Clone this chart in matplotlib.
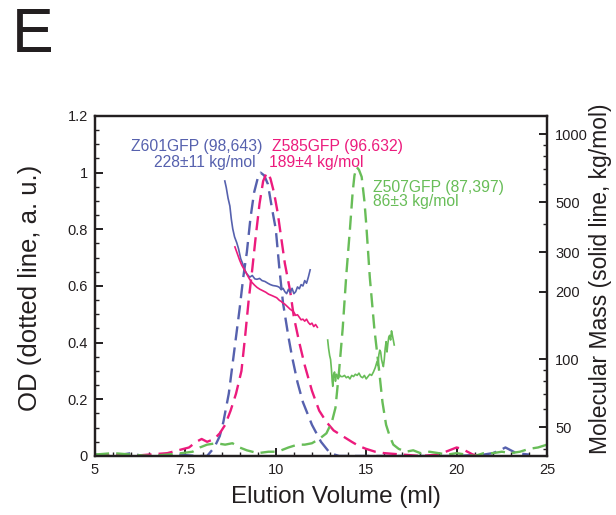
import numpy as np
import matplotlib
matplotlib.use("Agg")
import matplotlib.pyplot as plt
from matplotlib.ticker import FixedLocator, FixedFormatter, NullFormatter

plt.rcParams['font.family'] = ['Liberation Sans', 'DejaVu Sans']

# OD traces (dashed, left axis)
blue_od_x = [5.0, 5.5, 6.0, 6.3, 6.8, 7.3, 7.8, 8.1, 8.3, 8.45, 8.55, 8.7, 8.85, 9.0, 9.1, 9.2,
             9.3, 9.4, 9.5, 9.58, 9.68, 9.78, 9.9, 10.0, 10.2, 10.4, 10.7, 10.9, 11.2, 11.5,
             12.0, 12.5, 13.0, 13.5, 14.5, 16.0, 18.0, 20.0, 21.5, 22.0, 22.4, 22.7, 23.0,
             23.3, 24.0]
blue_od_y = [0.005, 0.0, 0.01, 0.0, 0.0, 0.005, 0.0, 0.0, 0.03, 0.07, 0.12, 0.22, 0.37, 0.52,
             0.63, 0.72, 0.84, 0.93, 0.98, 1.0, 0.99, 0.96, 0.87, 0.80, 0.66, 0.54, 0.42, 0.35,
             0.26, 0.19, 0.11, 0.05, 0.01, 0.0, 0.0, 0.0, 0.0, 0.0, 0.005, 0.01, 0.02, 0.03,
             0.02, 0.01, 0.005]

pink_od_x = [5.0, 5.5, 6.0, 6.5, 7.0, 7.3, 7.6, 7.8, 7.95, 8.1, 8.3, 8.45, 8.6, 8.75, 8.9,
             9.05, 9.15, 9.25, 9.35, 9.45, 9.55, 9.65, 9.75, 9.85, 9.95, 10.1, 10.3, 10.5,
             10.8, 11.0, 11.3, 11.6, 12.0, 12.4, 12.8, 13.2, 13.7, 14.2, 14.6, 15.0, 15.5,
             16.0, 17.0, 18.0, 19.0, 19.6, 20.0, 20.3, 20.6, 20.9, 21.2]
pink_od_y = [0.0, 0.005, 0.0, 0.005, 0.01, 0.02, 0.03, 0.05, 0.06, 0.05, 0.06, 0.08, 0.11,
             0.16, 0.22, 0.30, 0.42, 0.55, 0.66, 0.78, 0.89, 0.97, 1.0, 0.98, 0.93, 0.86,
             0.77, 0.68, 0.58, 0.49, 0.40, 0.32, 0.23, 0.16, 0.12, 0.09, 0.07, 0.05, 0.035,
             0.025, 0.015, 0.01, 0.005, 0.0, 0.005, 0.02, 0.03, 0.025, 0.015, 0.005, 0.0]

green_od_x = [5.0, 5.5, 6.0, 6.5, 7.0, 7.4, 7.7, 7.9, 8.1, 8.35, 8.6, 8.8, 9.0, 9.2, 9.5,
              9.8, 10.0, 10.3, 10.7, 11.2, 11.6, 12.0, 12.4, 12.8, 13.1, 13.3, 13.5, 13.7,
              13.9, 14.1, 14.25, 14.35, 14.47, 14.6, 14.75, 14.9, 15.0, 15.2, 15.45, 15.7,
              15.9, 16.1, 16.3, 16.5, 16.8, 17.2, 17.6, 18.0, 18.5, 19.0, 19.5, 20.0, 20.5,
              21.0, 21.5, 22.0, 22.5, 23.0, 23.5, 24.0, 24.5, 25.0]
green_od_y = [0.005, 0.01, 0.005, 0.0, 0.005, 0.01, 0.015, 0.03, 0.04, 0.045, 0.04, 0.045,
              0.03, 0.02, 0.01, 0.015, 0.015, 0.02, 0.03, 0.04, 0.04, 0.045, 0.06, 0.08,
              0.12, 0.17, 0.30, 0.45, 0.64, 0.80, 0.93, 0.99, 1.02, 1.01, 0.985, 0.90, 0.82,
              0.63, 0.45, 0.31, 0.19, 0.11, 0.07, 0.04, 0.025, 0.015, 0.02, 0.01, 0.015,
              0.01, 0.005, 0.01, 0.005, 0.0, 0.01, 0.01, 0.015, 0.01, 0.015, 0.025, 0.03,
              0.04]

# molecular mass traces (solid, right axis, kg/mol)
blue_mm_x = [8.59, 8.63, 8.68, 8.73, 8.77, 8.81, 8.86, 8.92, 8.97, 9.03, 9.09, 9.14, 9.2,
             9.28, 9.35, 9.42, 9.48, 9.55, 9.62, 9.7, 9.78, 9.85, 9.92, 10.0, 10.1, 10.2,
             10.3, 10.4, 10.5, 10.6, 10.7, 10.8, 10.9, 11.0, 11.1, 11.2, 11.3, 11.4, 11.5,
             11.6, 11.7, 11.8, 11.9]
blue_mm_y = [620, 580, 520, 480, 420, 380, 350, 330, 310, 280, 265, 250, 240, 232, 236, 228,
             227, 229, 224, 222, 218, 215, 213, 212, 211, 209, 204, 207, 200, 196, 205, 198,
             207, 196, 200, 210, 206, 215, 212, 224, 218, 232, 250]

pink_mm_x = [8.87, 8.92, 9.0, 9.06, 9.12, 9.2, 9.27, 9.34, 9.41, 9.48, 9.56, 9.64, 9.72, 9.8,
             9.9, 10.05, 10.2, 10.3, 10.4, 10.5, 10.6, 10.7, 10.8, 10.9, 11.0, 11.1, 11.2,
             11.3, 11.4, 11.5, 11.6, 11.7, 11.8, 11.9, 12.0, 12.1, 12.2, 12.3]
pink_mm_y = [316, 300, 276, 262, 252, 239, 228, 220, 214, 209, 205, 202, 199, 195, 192, 188,
             183, 181, 178, 176, 173, 170, 167, 165, 162, 157, 158, 154, 150, 151, 148, 151,
             146, 143, 145, 140, 143, 139]

green_mm_x = [12.87, 12.92, 12.98, 13.03, 13.08, 13.12, 13.15, 13.2, 13.25, 13.3, 13.35, 13.4,
              13.45, 13.5, 13.6, 13.7, 13.8, 13.9, 14.0, 14.1, 14.2, 14.3, 14.4, 14.5, 14.6,
              14.7, 14.8, 14.9, 15.0, 15.1, 15.2, 15.3, 15.4, 15.5, 15.6, 15.65, 15.7, 15.75,
              15.8, 15.85, 15.9, 15.95, 16.0, 16.05, 16.1, 16.15, 16.2, 16.25, 16.3, 16.35,
              16.4, 16.45, 16.5, 16.55]
green_mm_y = [122, 112, 104, 100, 90, 80, 76, 86, 88, 80, 86, 85, 82, 86, 84, 84, 85, 83, 84,
              82, 85, 84, 86, 85, 87, 84, 83, 85, 82, 84, 86, 85, 88, 92, 98, 94, 105, 110,
              108, 100, 96, 93, 100, 112, 120, 108, 118, 126, 128, 122, 134, 128, 122, 116]

x_ticks = [5, 7.5, 10, 15, 20, 25]
x_ticklabels = ['5', '7.5', '10', '15', '20', '25']
x_minor = [5.5, 6, 6.5, 7, 8, 8.5, 9, 9.5, 11, 12, 13, 14, 16, 17, 18, 19, 21, 22, 23, 24]
mm_ticks = [50, 100, 200, 300, 500, 1000]
mm_minor = [40, 60, 70, 80, 90, 400, 600, 700, 800, 900]

c_blue = '#5661ae'
c_pink = '#ec1b7d'
c_green = '#68bd58'
ink = '#231f20'


# the x axis is stretched 2x between 5 and 10 ml
def fwd(x):
    x = np.asarray(x, dtype=float)
    return np.where(x < 10, 2 * x - 10, x)


def inv(y):
    y = np.asarray(y, dtype=float)
    return np.where(y < 10, (y + 10) / 2, y)


fig = plt.figure(figsize=(6.16, 5.15), dpi=100)
ax = fig.add_axes([0.1542, 0.1146, 0.7338, 0.6602])
ax.set_xscale('function', functions=(fwd, inv))
ax2 = ax.twinx()

dash = (0, (6, 3))
ax.plot(blue_od_x, blue_od_y, color=c_blue, lw=1.7, ls=dash)
ax.plot(pink_od_x, pink_od_y, color=c_pink, lw=1.7, ls=dash)
ax.plot(green_od_x, green_od_y, color=c_green, lw=1.7, ls=dash)

ax2.plot(blue_mm_x, blue_mm_y, color=c_blue, lw=1.2)
ax2.plot(pink_mm_x, pink_mm_y, color=c_pink, lw=1.2)
ax2.plot(green_mm_x, green_mm_y, color=c_green, lw=1.2)

ax.set_xlim(5, 25)
ax.set_ylim(0, 1.2)
ax.xaxis.set_major_locator(FixedLocator(x_ticks))
ax.xaxis.set_major_formatter(FixedFormatter(x_ticklabels))
ax.xaxis.set_minor_locator(FixedLocator(x_minor))
ax.set_yticks([0, 0.2, 0.4, 0.6, 0.8, 1.0, 1.2])
ax.set_yticklabels(['0', '0.2', '0.4', '0.6', '0.8', '1', '1.2'])
ax.yaxis.set_minor_locator(FixedLocator(np.arange(0.05, 1.2, 0.05)))

ax2.set_yscale('log')
ax2.set_ylim(37.3, 1205)
ax2.yaxis.set_major_locator(FixedLocator(mm_ticks))
ax2.yaxis.set_major_formatter(FixedFormatter([str(v) for v in mm_ticks]))
ax2.yaxis.set_minor_locator(FixedLocator(mm_minor))
ax2.yaxis.set_minor_formatter(NullFormatter())

for a in (ax, ax2):
    for s in a.spines.values():
        s.set_linewidth(1.6)
        s.set_color(ink)
    a.tick_params(which='major', direction='in', length=6, width=1.4, color=ink,
                  labelsize=10.5, labelcolor=ink)
    a.tick_params(which='minor', direction='in', length=3, width=1.0, color=ink)
ax.tick_params(axis='x', pad=5)
ax.tick_params(axis='y', pad=5)
ax2.tick_params(axis='y', pad=6)

ax.set_xlabel('Elution Volume (ml)', fontsize=17.5, color=ink)
ax.xaxis.set_label_coords(0.532, -0.088)
ax.set_ylabel('OD (dotted line, a. u.)', fontsize=18.5, color=ink)
ax.yaxis.set_label_coords(-0.118, 0.495)
ax2.set_ylabel('Molecular Mass (solid line, kg/mol)', fontsize=16.5, color=ink)
ax2.yaxis.set_label_coords(1.092, 0.52)

ax.text(0.0795, 0.909, 'Z601GFP (98,643)', transform=ax.transAxes, color=c_blue,
        fontsize=11.3, va='center', ha='left')
ax.text(0.130, 0.862, '228±11 kg/mol', transform=ax.transAxes, color=c_blue,
        fontsize=11.3, va='center', ha='left')
ax.text(0.391, 0.909, 'Z585GFP (96.632)', transform=ax.transAxes, color=c_pink,
        fontsize=11.3, va='center', ha='left')
ax.text(0.384, 0.862, '189±4 kg/mol', transform=ax.transAxes, color=c_pink,
        fontsize=11.3, va='center', ha='left')
ax.text(0.614, 0.791, 'Z507GFP (87,397)', transform=ax.transAxes, color=c_green,
        fontsize=11.3, va='center', ha='left')
ax.text(0.614, 0.747, '86±3 kg/mol', transform=ax.transAxes, color=c_green,
        fontsize=11.3, va='center', ha='left')

fig.text(12 / 616, 1 - 6 / 515, 'E', fontsize=45, color=ink, va='top', ha='left')

fig.savefig('out.png', dpi=100)
